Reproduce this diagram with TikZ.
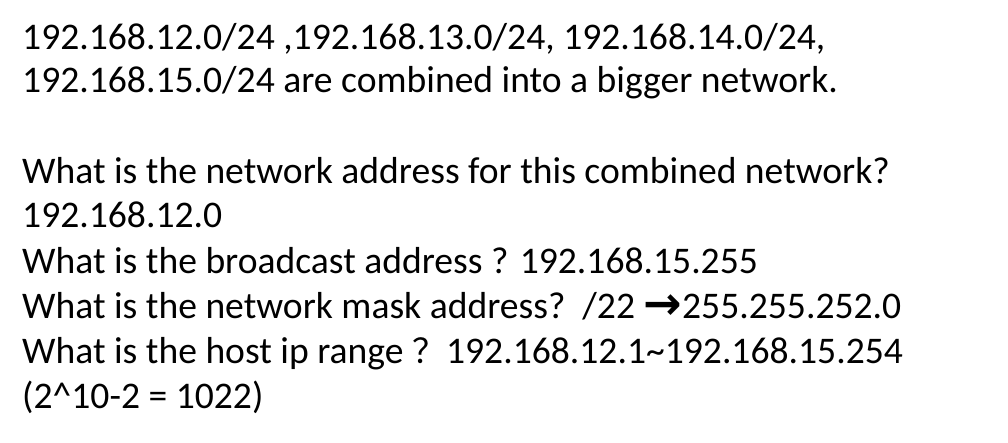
\documentclass[tikz,border=0pt]{standalone}
\usepackage{fontspec}
\setmainfont{Carlito}
\newfontfamily\arrowfont{DejaVu Sans}
\newfontfamily\cjkfont{Noto Sans CJK SC}
\usetikzlibrary{positioning}
\tikzset{text line/.style={anchor=base west,inner sep=0pt,font=\fontsize{37.6}{45}\selectfont},
            }

\begin{document}
\begin{tikzpicture}[x=1pt,y=1pt]
    \useasboundingbox (0,0) rectangle (1008,-442);
    \node[text line] (l1) at (22,-49) {192.168.12.0/24 ,192.168.13.0/24, 192.168.14.0/24,};
    \node[text line] (l2) [below = 43pt of l1.base west, anchor=base west] {192.168.15.0/24 are combined into a bigger network.};

    \node[text line] (l3) [below = 91pt of l2.base west, anchor=base west] {What is the network address for this combined network?};
    \node[text line] (l4) [below = 44pt of l3.base west, anchor=base west] {192.168.12.0};
    \node[text line] (l5) [below = 46pt of l4.base west, anchor=base west] {What is the broadcast address ? 192.168.15.255};
    \node[text line] (l6) [below = 45pt of l5.base west, anchor=base west] {What is the network mask address?\ \ /22 {\arrowfont\bfseries\fontsize{46}{46}\selectfont\raisebox{-1pt}{→}}255.255.252.0};
    \node[text line] (l7) [below = 45pt of l6.base west, anchor=base west] {What is the host ip range {\cjkfont\fontsize{34}{34}\selectfont ？}192.168.12.1\char`\~192.168.15.254};
    \node[text line] (l8) [below = 45pt of l7.base west, anchor=base west] {(2\^{}10-2 = 1022)};
\end{tikzpicture}
\end{document}
